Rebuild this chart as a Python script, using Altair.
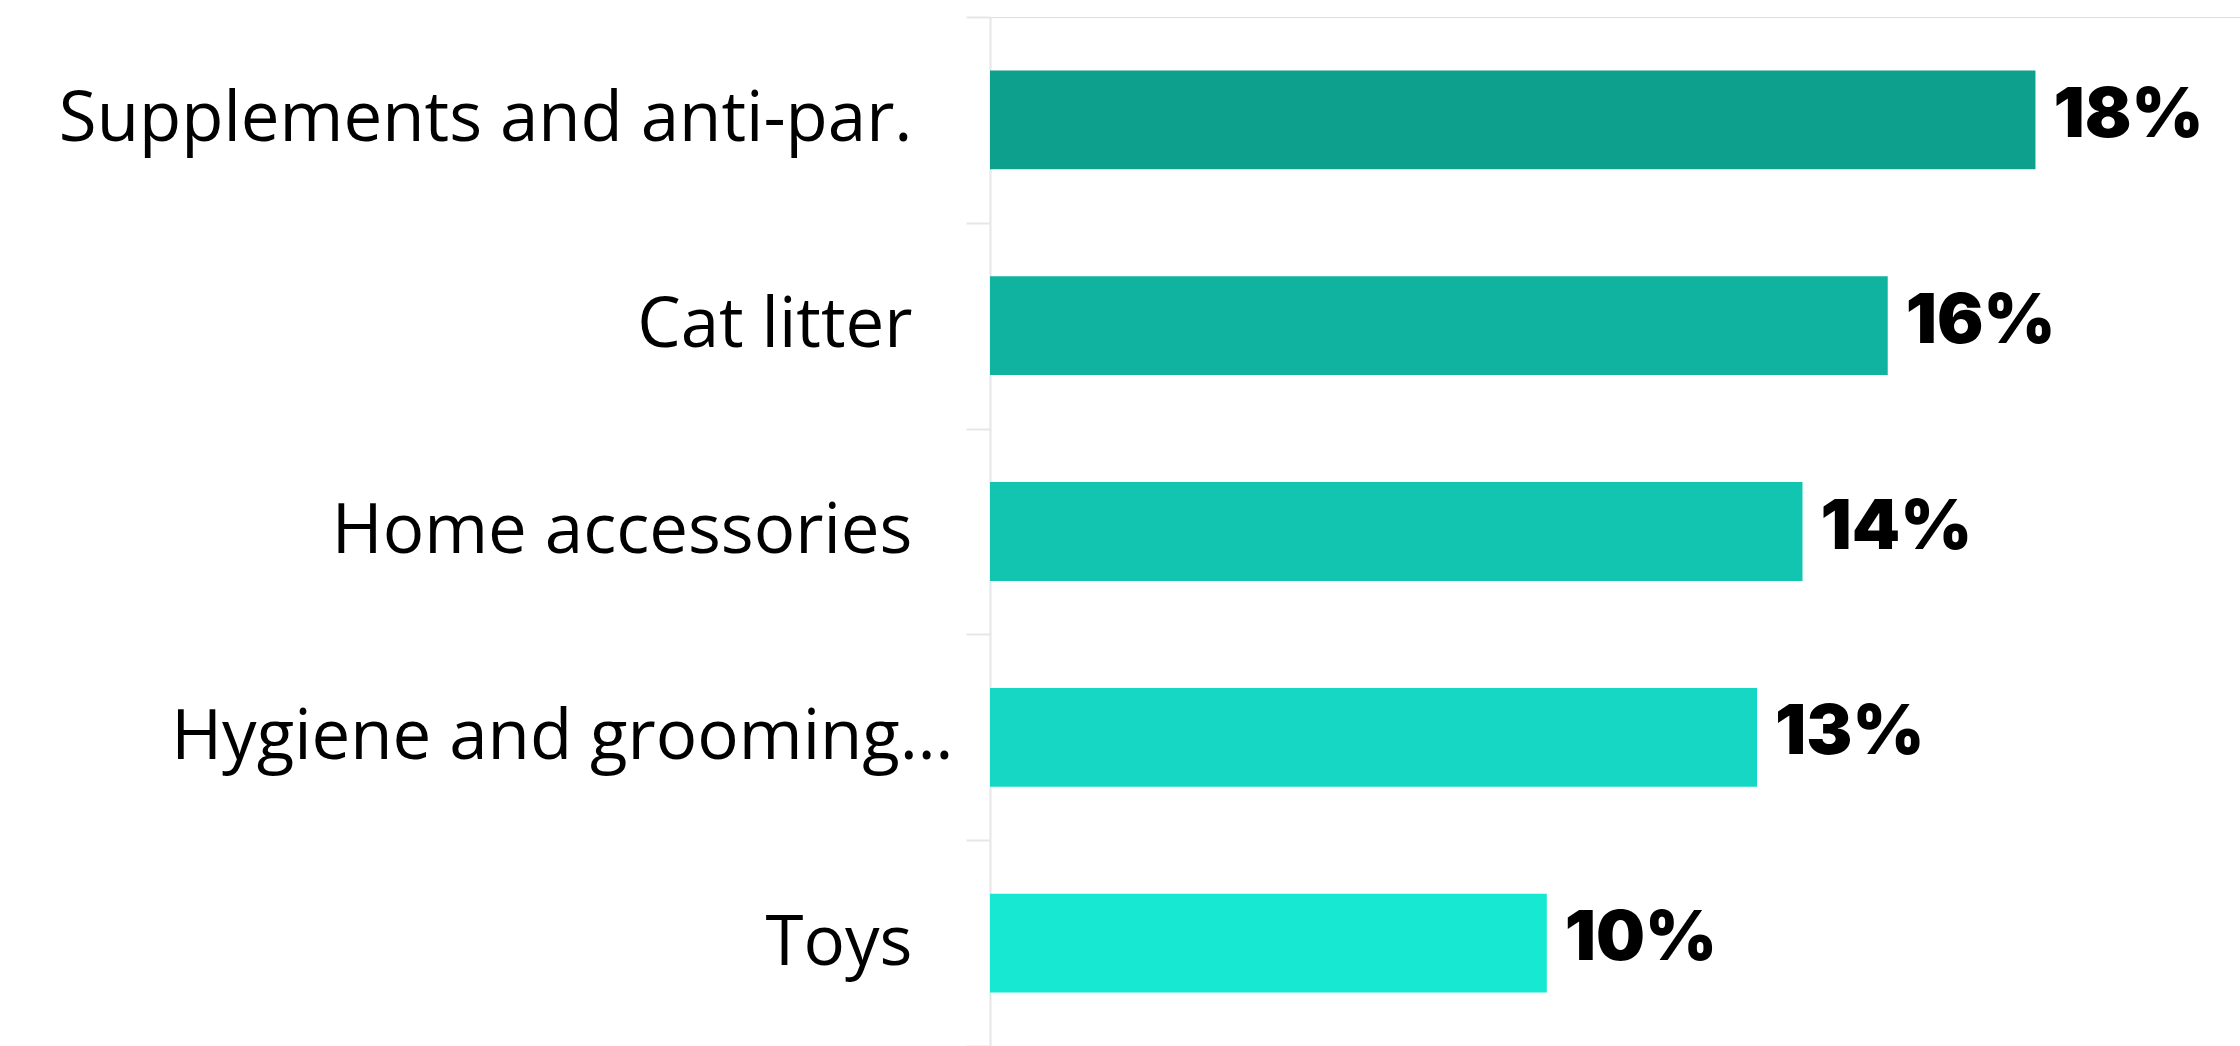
import altair as alt
import pandas as pd

categories = [
    "Supplements and anti-par.",
    "Cat litter",
    "Home accessories",
    "Hygiene and grooming…",
    "Toys",
]
values = [18.4, 15.8, 14.3, 13.5, 9.8]
labels = ["18%", "16%", "14%", "13%", "10%"]
colors = ["#0DA08D", "#10B3A0", "#12C5B0", "#15D7C3", "#17E8D1"]

df = pd.DataFrame({"category": categories, "value": values, "label": labels})

y = alt.Y(
    "category:N",
    sort=categories,
    scale=alt.Scale(paddingInner=0, paddingOuter=0),
    axis=alt.Axis(
        title=None,
        domainColor="#e6e6e6",
        domainWidth=2,
        tickColor="#e6e6e6",
        tickWidth=2,
        tickSize=24,
        tickBand="extent",
        labelFont="Open Sans",
        labelFontSize=69,
        labelColor="#000000",
        labelPadding={"condition": {"test": "datum.value == 'Hygiene and grooming…'", "value": 13},
                      "value": 54},
        labelLimit=1000,
    ),
)

x = alt.X(
    "value:Q",
    scale=alt.Scale(domain=[0, 22], nice=False),
    axis=None,
)

bars = alt.Chart(df).mark_bar(height={"band": 0.48}).encode(
    x=x,
    y=y,
    color=alt.Color("category:N", sort=categories,
                    scale=alt.Scale(domain=categories, range=colors), legend=None),
)

text = alt.Chart(df).mark_text(
    align="left", baseline="middle", dx=18, dy=-4,
    font="Inter", fontSize=69, fontWeight=900, color="#000000",
).encode(
    x=x,
    y=alt.Y("category:N", sort=categories),
    text="label:N",
)

chart = (bars + text).properties(
    width=1250,
    height=1029,
    autosize=alt.AutoSizeParams(type="none"),
    padding={"left": 990, "top": 17, "right": 0, "bottom": 0},
).configure_view(stroke=None).configure(background="white")

chart.save("out.html", embed_options={"renderer": "svg", "actions": False})
